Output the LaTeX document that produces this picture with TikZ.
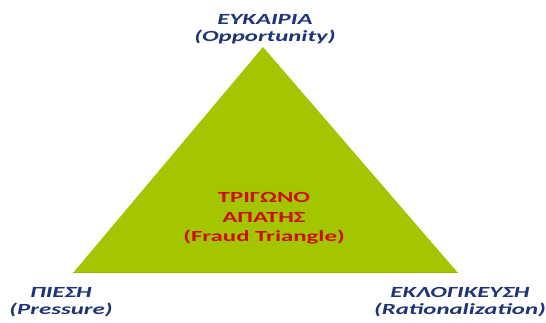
\documentclass[tikz,border=0pt]{standalone}
\usepackage{fontspec}
\setmainfont{Carlito}
\newfontfamily\widefont[FakeStretch=1.6]{Carlito}
\definecolor{trigreen}{RGB}{164,198,0}
\definecolor{triedge}{RGB}{150,182,0}
\definecolor{navy}{RGB}{30,52,118}
\definecolor{fraudred}{RGB}{204,16,0}
\tikzset{
  lbl/.style={font=\widefont\fontsize{15.5}{17}\selectfont\bfseries\itshape, text=navy, align=center, inner sep=0pt},
  mid/.style={font=\widefont\fontsize{15.5}{19.5}\selectfont\bfseries, text=fraudred, align=center, inner sep=0pt}
}
\begin{document}
\begin{tikzpicture}[x=1pt,y=1pt]
\useasboundingbox (0,0) rectangle (546,323);
\coordinate (A) at (263,276);
\coordinate (B) at (73,50);
\coordinate (C) at (458,50);
\fill[trigreen] (A) -- (B) -- (C) -- cycle;
\draw[triedge, line width=1pt] (B) -- (C);
\node[lbl, anchor=base] (top) at (265,281) {ΕΥΚΑΙΡΙΑ\\(Opportunity)};
\node[lbl, anchor=base] (left) at (61,8) {ΠΙΕΣΗ\\(Pressure)};
\node[lbl, anchor=base] (right) at (460,8) {ΕΚΛΟΓΙΚΕΥΣΗ\\(Rationalization)};
\node[mid, anchor=base] (center) at (264,81) {ΤΡΙΓΩΝΟ\\ΑΠΑΤΗΣ\\(Fraud Triangle)};
\end{tikzpicture}
\end{document}
